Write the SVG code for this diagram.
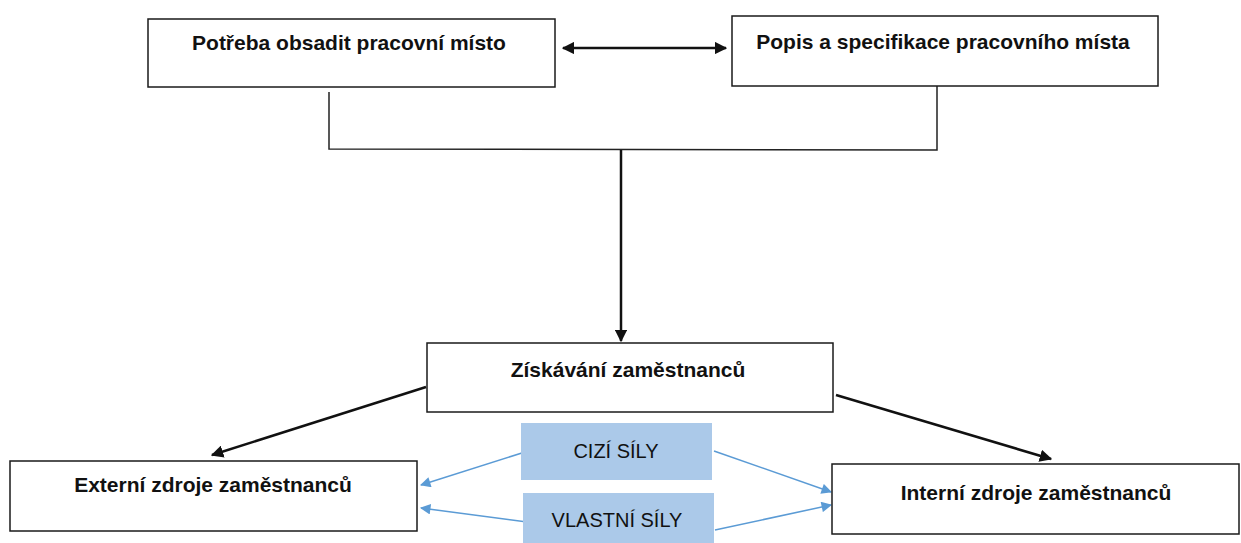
<svg xmlns="http://www.w3.org/2000/svg" width="1241" height="543" viewBox="0 0 1241 543">
  <style>
    .box { fill: #ffffff; stroke: #1a1a1a; stroke-width: 1.5; }
    .force { fill: #abc9e9; stroke: none; }
    .title { font-family: "Liberation Sans", Arial, sans-serif; font-weight: bold; font-size: 21px; fill: #111; text-anchor: middle; }
    .force-label { font-family: "Liberation Sans", Arial, sans-serif; font-size: 20px; fill: #111; text-anchor: middle; }
    .link { fill: none; stroke: #111; stroke-width: 2.5; }
    .bracket { fill: none; stroke: #222; stroke-width: 1.5; }
    .blue { fill: none; stroke: #5b9bd5; stroke-width: 1.5; }
  </style>
  <defs>
    <marker id="arrowBlack" viewBox="0 0 10 10" refX="9" refY="5" markerWidth="5" markerHeight="5" markerUnits="strokeWidth" orient="auto-start-reverse">
      <path d="M0,0 L10,5 L0,10 z" fill="#111"/>
    </marker>
    <marker id="arrowBlue" viewBox="0 0 10 10" refX="9" refY="5" markerWidth="8" markerHeight="7" markerUnits="strokeWidth" orient="auto">
      <path d="M0,0 L10,5 L0,10 z" fill="#5b9bd5"/>
    </marker>
  </defs>

  <g id="connectors">
    <!-- top pair linked both ways -->
    <line class="link" x1="563" y1="48" x2="726" y2="48" marker-start="url(#arrowBlack)" marker-end="url(#arrowBlack)"/>
    <!-- bracket joining the two top boxes -->
    <polyline class="bracket" points="329,92 329,149 937,150 937,86"/>
    <line class="link" x1="621" y1="150" x2="621" y2="341" marker-end="url(#arrowBlack)"/>
    <!-- split into external and internal sources -->
    <line class="link" x1="426" y1="387" x2="212" y2="455" marker-end="url(#arrowBlack)"/>
    <line class="link" x1="836" y1="395" x2="1051" y2="459" marker-end="url(#arrowBlack)"/>
    <!-- forces pointing to both sources -->
    <line class="blue" x1="525" y1="452" x2="421" y2="485" marker-end="url(#arrowBlue)"/>
    <line class="blue" x1="527" y1="522" x2="421" y2="508" marker-end="url(#arrowBlue)"/>
    <line class="blue" x1="714" y1="451" x2="831" y2="492" marker-end="url(#arrowBlue)"/>
    <line class="blue" x1="715" y1="530" x2="831" y2="505" marker-end="url(#arrowBlue)"/>
  </g>

  <g id="need">
    <rect class="box" x="148" y="19" width="407" height="68"/>
    <text class="title" x="349" y="50">Potřeba obsadit pracovní místo</text>
  </g>
  <g id="description">
    <rect class="box" x="732" y="16" width="426" height="70"/>
    <text class="title" x="943" y="49">Popis a specifikace pracovního místa</text>
  </g>
  <g id="recruitment">
    <rect class="box" x="427" y="343" width="406" height="69"/>
    <text class="title" x="628" y="377">Získávání zaměstnanců</text>
  </g>
  <g id="external">
    <rect class="box" x="10" y="461" width="407" height="70"/>
    <text class="title" x="213" y="492">Externí zdroje zaměstnanců</text>
  </g>
  <g id="internal">
    <rect class="box" x="832" y="464" width="407" height="70"/>
    <text class="title" x="1036" y="500">Interní zdroje zaměstnanců</text>
  </g>
  <g id="foreign-forces">
    <rect class="force" x="521" y="423" width="191" height="57"/>
    <text class="force-label" x="616" y="458">CIZÍ SÍLY</text>
  </g>
  <g id="own-forces">
    <rect class="force" x="523" y="493" width="191" height="57"/>
    <text class="force-label" x="617" y="527">VLASTNÍ SÍLY</text>
  </g>
</svg>
